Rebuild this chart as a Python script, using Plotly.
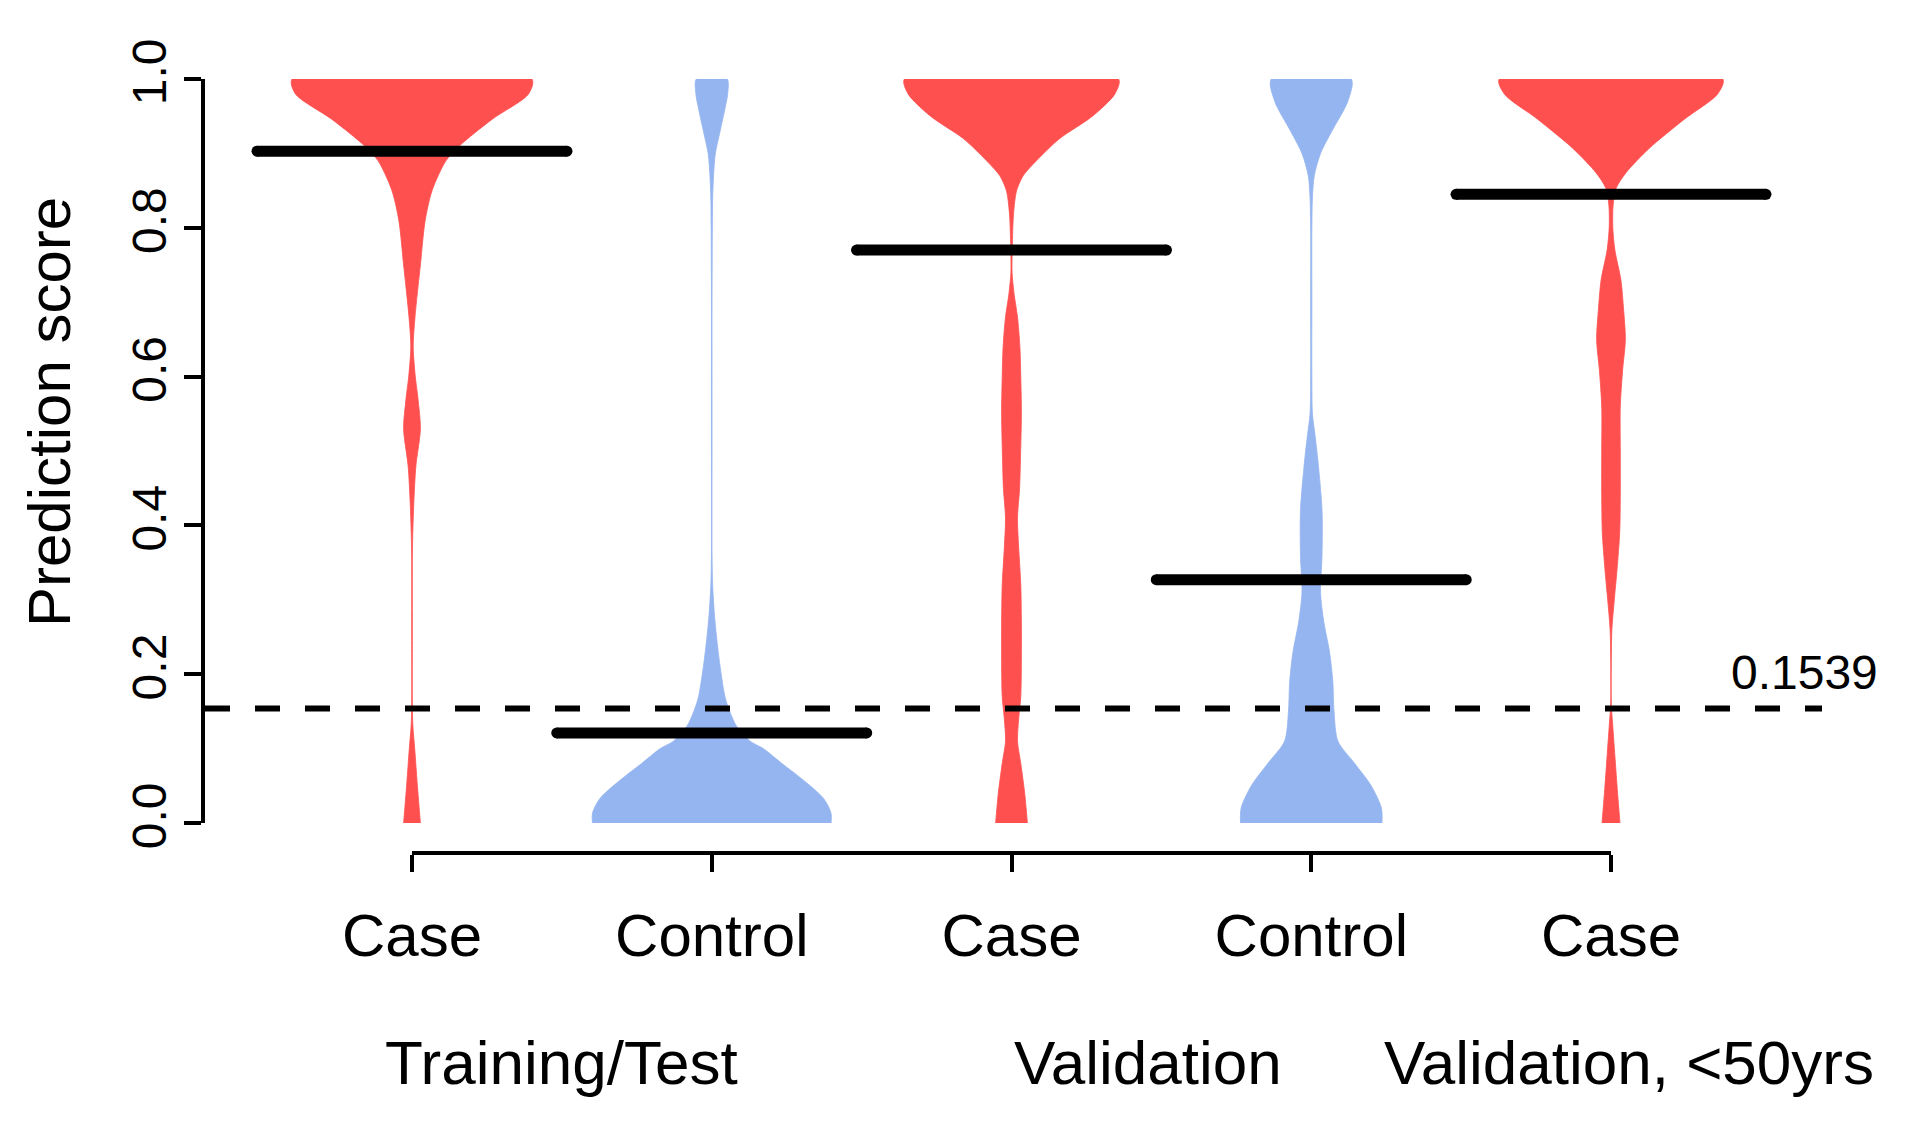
import plotly.graph_objects as go

W, H = 1923, 1133

# ---------------- data ----------------
categories = ["Case", "Control", "Case", "Control", "Case"]
positions = [1, 2, 3, 4, 5]
groups = ["Training/Test", "Validation", "Validation, <50yrs"]
group_centers = [1.5, 3.455, 5.06]
medians = [0.903, 0.121, 0.770, 0.327, 0.845]
threshold = 0.1539

# violin outlines: score levels and half-widths (in category units)
case1_y = [0, 0.05, 0.10, 0.13, 0.16, 0.25, 0.35, 0.38, 0.43, 0.48, 0.53, 0.57, 0.60,
           0.64, 0.68, 0.75, 0.81, 0.85, 0.89, 0.91, 0.946, 0.98, 1.0]
case1_w = [0.028, 0.018, 0.009, 0.003, 0.001, 0.001, 0.001, 0.002, 0.006, 0.013, 0.028,
           0.020, 0.011, 0.004, 0.010, 0.028, 0.044, 0.067, 0.113, 0.158, 0.268, 0.389, 0.400]

control1_y = [0, 0.013, 0.033, 0.06, 0.08, 0.10, 0.11, 0.13, 0.152, 0.17, 0.21, 0.25, 0.28,
              0.32, 0.36, 0.5, 0.7, 0.80, 0.84, 0.87, 0.90, 0.93, 0.96, 0.98, 1.0]
control1_w = [0.398, 0.398, 0.373, 0.298, 0.234, 0.172, 0.128, 0.083, 0.058, 0.044, 0.028,
              0.016, 0.009, 0.003, 0.001, 0.001, 0.001, 0.002, 0.003, 0.006, 0.012, 0.028,
              0.044, 0.053, 0.051]

case2_y = [0, 0.04, 0.08, 0.11, 0.14, 0.17, 0.22, 0.27, 0.32, 0.37, 0.41, 0.45, 0.49, 0.55,
           0.60, 0.64, 0.68, 0.71, 0.74, 0.78, 0.82, 0.85, 0.87, 0.89, 0.92, 0.95, 0.98, 1.0]
case2_w = [0.053, 0.044, 0.031, 0.020, 0.024, 0.031, 0.033, 0.033, 0.031, 0.024, 0.020,
           0.027, 0.030, 0.033, 0.031, 0.028, 0.020, 0.009, 0.002, 0.003, 0.007, 0.017,
           0.039, 0.083, 0.161, 0.270, 0.345, 0.357]

control2_y = [0, 0.02, 0.05, 0.08, 0.11, 0.15, 0.19, 0.23, 0.27, 0.31, 0.36, 0.42, 0.48,
              0.52, 0.55, 0.60, 0.70, 0.80, 0.84, 0.87, 0.90, 0.93, 0.97, 1.0]
control2_w = [0.236, 0.234, 0.200, 0.145, 0.089, 0.076, 0.072, 0.061, 0.042, 0.031, 0.036,
              0.036, 0.024, 0.013, 0.004, 0.002, 0.002, 0.002, 0.004, 0.010, 0.031, 0.069,
              0.122, 0.133]

case3_y = [0, 0.04, 0.09, 0.13, 0.16, 0.22, 0.26, 0.30, 0.34, 0.39, 0.44, 0.50, 0.56, 0.61,
           0.65, 0.69, 0.73, 0.77, 0.80, 0.83, 0.853, 0.874, 0.907, 0.946, 0.98, 1.0]
case3_w = [0.030, 0.022, 0.013, 0.006, 0.001, 0.001, 0.003, 0.011, 0.020, 0.029, 0.031,
           0.031, 0.031, 0.039, 0.048, 0.042, 0.033, 0.013, 0.006, 0.007, 0.017, 0.050,
           0.128, 0.245, 0.356, 0.373]

violin_y = [case1_y, control1_y, case2_y, control2_y, case3_y]
violin_w = [case1_w, control1_w, case2_w, control2_w, case3_w]

RED = "#FF5050"
BLUE = "#95B5F0"
violin_colors = [RED, BLUE, RED, BLUE, RED]
median_halfwidth = 0.517

FONT = "Liberation Sans, Arial, Helvetica, sans-serif"

# ---------------- layout geometry (pixels) ----------------
px_x1, px_x5 = 412, 1611          # x pixel of first / last category
unit = (px_x5 - px_x1) / 4.0
plot_left, plot_right = 205, 1900
y_top, y_bot = 79, 823
xaxis2_px = 853


def xval(p):
    return 1 + (p - px_x1) / unit


fig = go.Figure()

for pos, ys, ws, col in zip(positions, violin_y, violin_w, violin_colors):
    xs = [pos + w for w in ws] + [pos - w for w in reversed(ws)]
    yy = list(ys) + list(reversed(ys))
    fig.add_trace(go.Scatter(x=xs, y=yy, mode="lines", fill="toself",
                             fillcolor=col,
                             line=dict(color=col, width=0.8, shape="spline", smoothing=0.8),
                             hoverinfo="skip", showlegend=False))

for pos, m in zip(positions, medians):
    fig.add_trace(go.Scatter(x=[pos - median_halfwidth, pos + median_halfwidth], y=[m, m],
                             mode="lines+markers", line=dict(color="black", width=11),
                             marker=dict(color="black", size=11, symbol="circle"),
                             hoverinfo="skip", showlegend=False))

# invisible trace carrying the category axis
fig.add_trace(go.Scatter(x=positions, y=medians, xaxis="x2", yaxis="y", mode="markers",
                         marker=dict(opacity=0), hoverinfo="skip", showlegend=False))

fig.add_shape(type="line", xref="paper", yref="y", x0=plot_left / W, x1=1822 / W,
              y0=threshold, y1=threshold,
              line=dict(color="black", width=6, dash="25px,25px"))

fig.add_annotation(text=f"{threshold:.4f}", xref="paper", yref="paper",
                   x=1880 / W, y=(H - 672) / H, xanchor="right", yanchor="middle",
                   showarrow=False, font=dict(family=FONT, size=48, color="black"))

for g, c in zip(groups, group_centers):
    fig.add_annotation(text=g, xref="x", yref="paper", x=c, y=(H - 1062) / H,
                       xanchor="center", yanchor="middle", showarrow=False,
                       font=dict(family=FONT, size=62, color="black"))

fig.add_annotation(text="Prediction score", xref="paper", yref="paper",
                   x=49 / W, y=(H - 412) / H, textangle=-90, showarrow=False,
                   xanchor="center", yanchor="middle",
                   font=dict(family=FONT, size=60, color="black"))

fig.update_layout(
    width=W, height=H, autosize=False,
    margin=dict(l=0, r=0, t=0, b=0, pad=0),
    paper_bgcolor="white", plot_bgcolor="rgba(0,0,0,0)",
    showlegend=False,
    xaxis=dict(domain=[plot_left / W, plot_right / W],
               range=[xval(plot_left), xval(plot_right)],
               visible=False, showgrid=False, zeroline=False, fixedrange=True),
    xaxis2=dict(domain=[px_x1 / W, px_x5 / W], range=[1, 5], anchor="free",
                position=(H - xaxis2_px) / H, side="bottom",
                showline=True, linecolor="black", linewidth=4,
                ticks="outside", ticklen=17, tickwidth=4, tickcolor="black",
                tickvals=positions, ticktext=categories, ticklabelstandoff=12,
                tickfont=dict(family=FONT, size=60, color="black"),
                showgrid=False, zeroline=False, fixedrange=True, automargin=False),
    yaxis=dict(domain=[(H - y_bot) / H, (H - y_top) / H], range=[0, 1],
               showline=True, linecolor="black", linewidth=4,
               ticks="outside", ticklen=17, tickwidth=4, tickcolor="black",
               tickvals=[0, 0.2, 0.4, 0.6, 0.8, 1.0],
               ticktext=["0.0", "0.2", "0.4", "0.6", "0.8", "1.0"],
               tickangle=-90, ticklabelstandoff=-1,
               tickfont=dict(family=FONT, size=48, color="black"),
               showgrid=False, zeroline=False, fixedrange=True, automargin=False),
)

fig.write_html("out.html",
               config={"displayModeBar": False},
               post_script="document.body.style.margin='0px';"
                           "document.body.style.overflow='hidden';")
